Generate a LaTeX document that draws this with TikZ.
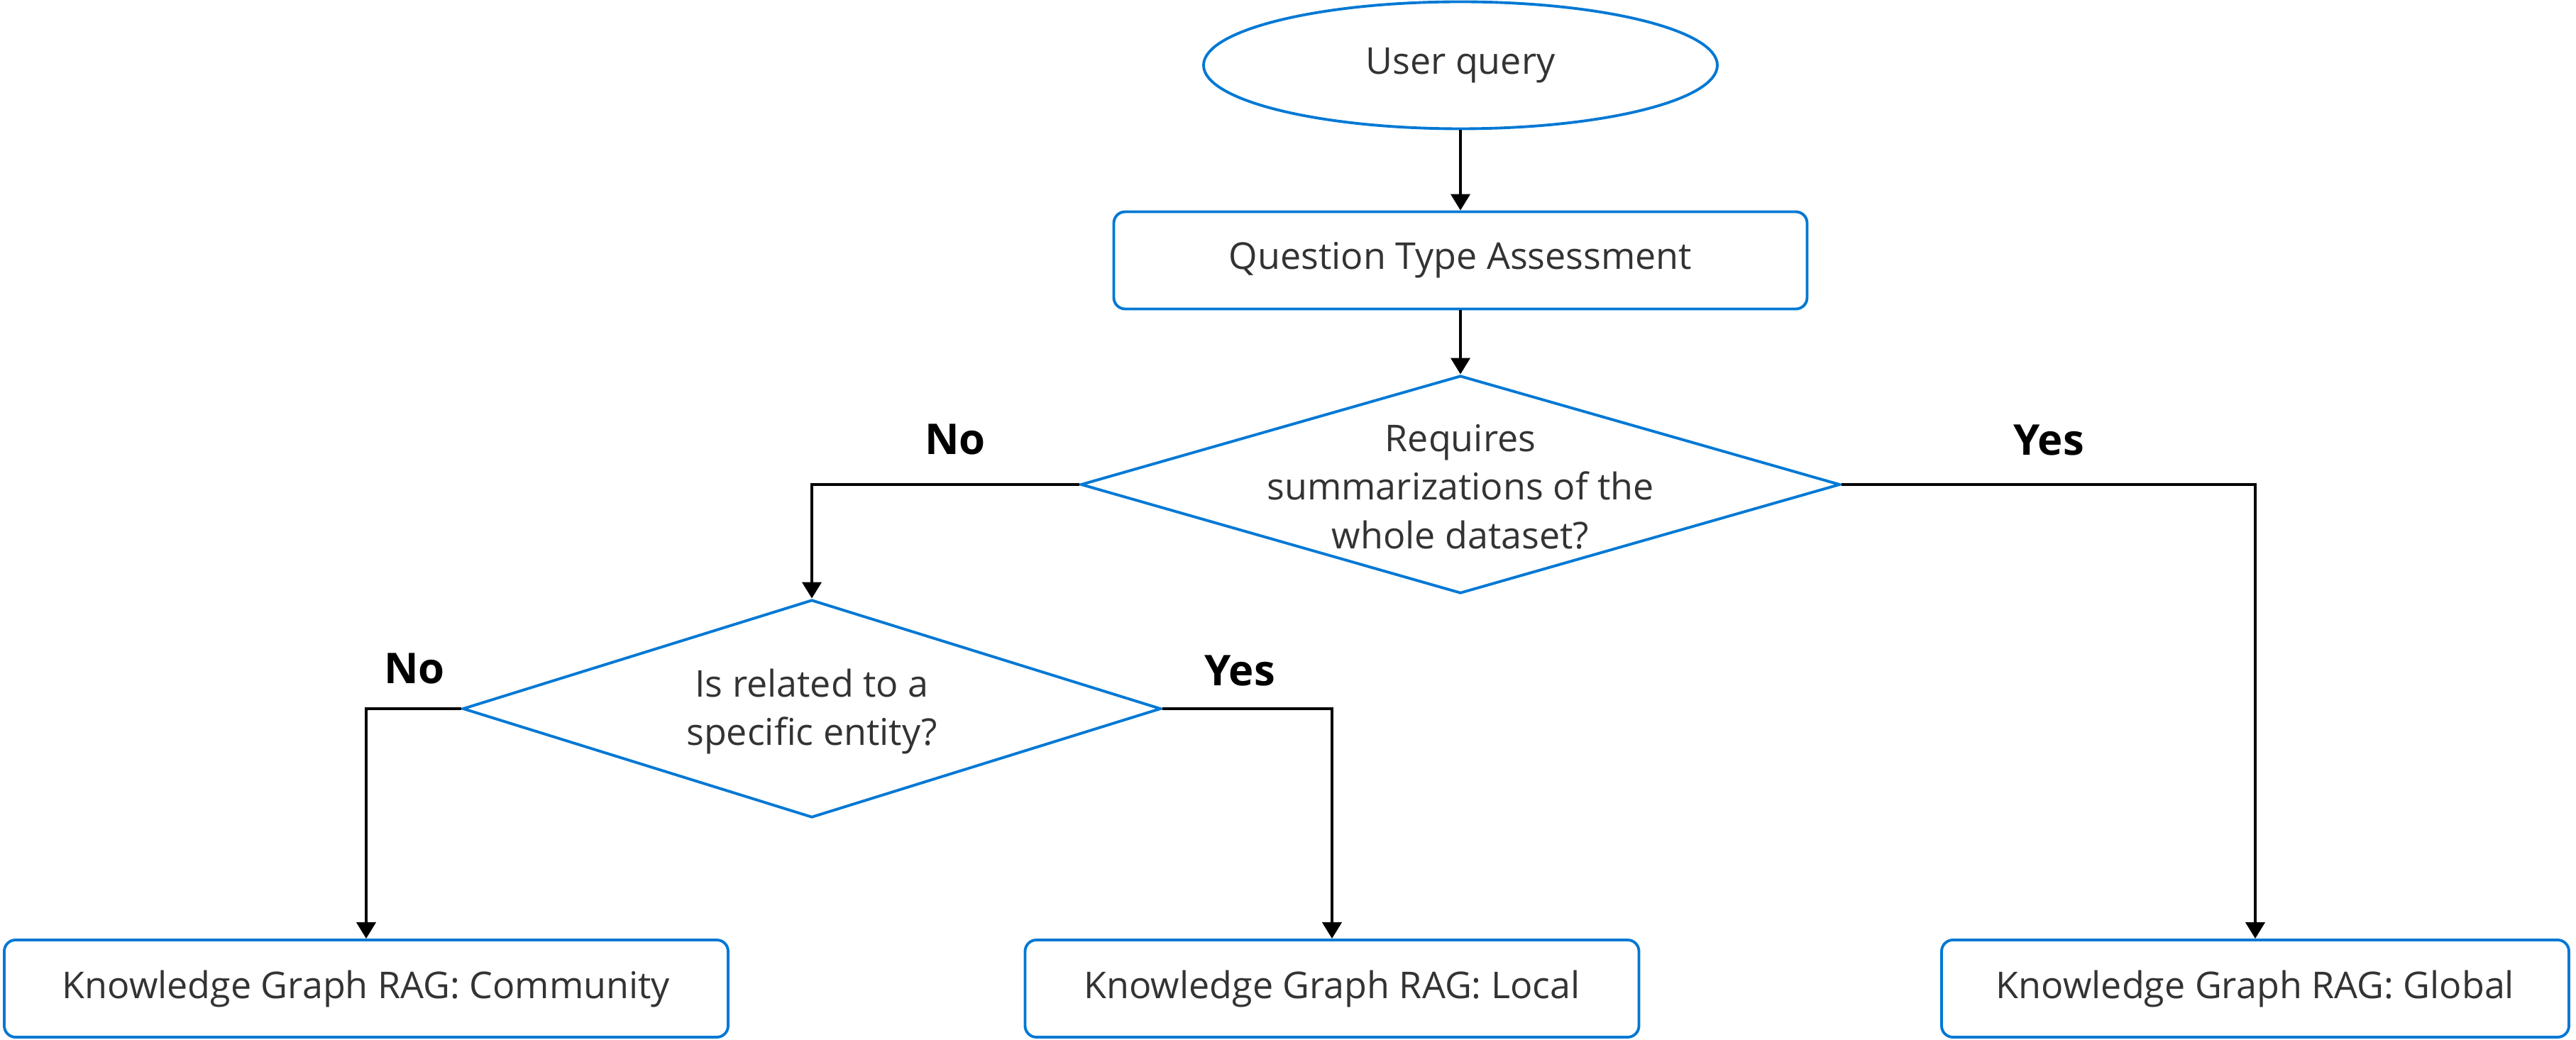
\documentclass[tikz,border=0pt]{standalone}
\usepackage{fontspec}
\setmainfont{Open Sans}
\usetikzlibrary{shapes.geometric}
\usetikzlibrary{arrows.meta}
\tikzset{>={Triangle[width=2.7mm,length=2.3mm]}}
\definecolor{flowblue}{HTML}{0078D4}
\definecolor{flowtext}{HTML}{333333}

\begin{document}
\begin{tikzpicture}[
    txt/.style = {font=\fontsize{14.8}{19.5}\selectfont, text=flowtext},
    term/.style = {ellipse, draw=flowblue, line width=1.1pt, txt,
        minimum width=7.24cm, minimum height=1.79cm},
    proc/.style = {rectangle, rounded corners=1.6mm, draw=flowblue,
        line width=1.1pt, txt, minimum height=1.37cm},
    decision/.style = {diamond, draw=flowblue, line width=1.1pt,
        minimum height=3.07cm},
    answer/.style = {font=\fontsize{17}{20}\selectfont\bfseries},
    link/.style = {->, line width=1.15pt}
  ]
  \useasboundingbox (0,0) rectangle (36.3,14.66);

  \node[term] (QUERY) at (20.58,13.74) {User query};
  \node[proc, minimum width=9.77cm] (TYPE) at (20.58,10.99) {Question Type Assessment};

  \node[decision, minimum width=10.70cm] (WHOLE) at (20.58,7.83) {};
  \node[txt, align=center] (WHOLEtxt) at (20.58,7.80) {Requires\\summarizations of the\\whole dataset?};
  \node[decision, minimum width=9.84cm] (ENTITY) at (11.44,4.67) {};
  \node[txt, align=center] (ENTITYtxt) at (11.44,4.63) {Is related to a\\specific entity?};

  \node[proc, minimum width=10.20cm] (COMM) at (5.16,0.725) {Knowledge Graph RAG: Community};
  \node[proc, minimum width=8.65cm] (LOCAL) at (18.77,0.725) {Knowledge Graph RAG: Local};
  \node[proc, minimum width=8.84cm] (GLOBAL) at (31.78,0.725) {Knowledge Graph RAG: Global};

  \node[answer] (NO1) at (13.46,8.47) {No};
  \node[answer] (YES1) at (28.87,8.46) {Yes};
  \node[answer] (NO2) at (5.84,5.24) {No};
  \node[answer] (YES2) at (17.47,5.21) {Yes};

  \draw[link] (QUERY) -- (TYPE);
  \draw[link] (TYPE) -- (WHOLE);
  \draw[link] (WHOLE.west) -| (ENTITY.north);
  \draw[link] (WHOLE.east) -| (GLOBAL.north);
  \draw[link] (ENTITY.west) -| (COMM.north);
  \draw[link] (ENTITY.east) -| (LOCAL.north);
\end{tikzpicture}
\end{document}
